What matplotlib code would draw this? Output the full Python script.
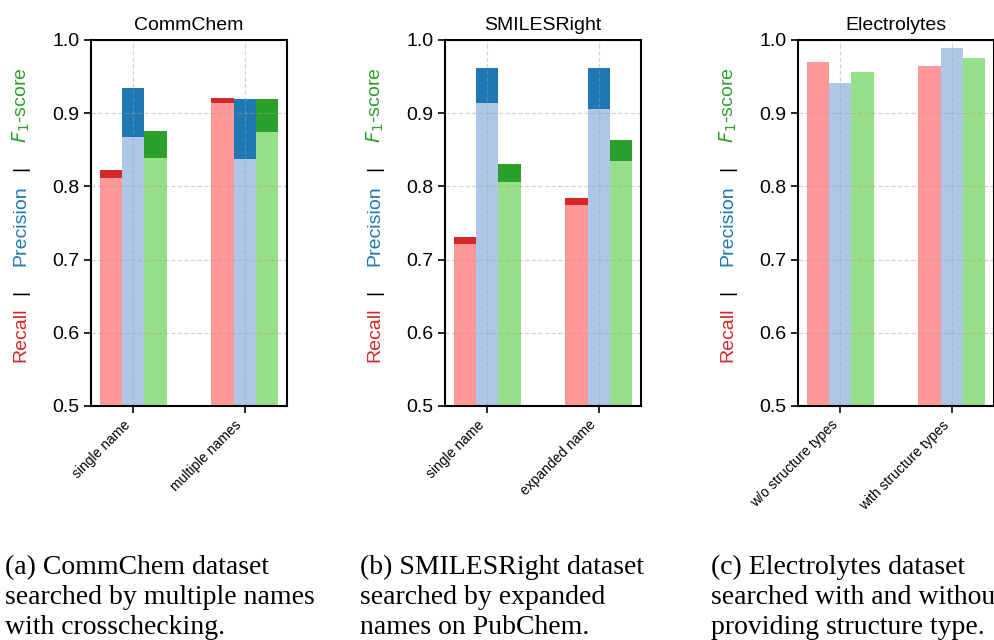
import numpy as np
import matplotlib.pyplot as plt

plt.rcParams['font.family'] = 'Liberation Sans'

titles = ['CommChem', 'SMILESRight', 'Electrolytes']
group_labels = [['single name', 'multiple names'],
                ['single name', 'expanded name'],
                ['w/o structure types', 'with structure types']]

# rows: recall, precision, f1 ; columns: the two groups
commchem_base = [[0.812, 0.914], [0.868, 0.838], [0.839, 0.874]]
commchem_top = [[0.823, 0.921], [0.935, 0.919], [0.875, 0.920]]
smiles_base = [[0.721, 0.775], [0.914, 0.906], [0.806, 0.835]]
smiles_top = [[0.731, 0.784], [0.962, 0.962], [0.831, 0.864]]
electro_base = [[0.970, 0.964], [0.941, 0.989], [0.956, 0.976]]
electro_top = [[0.970, 0.964], [0.941, 0.989], [0.956, 0.976]]

captions = ['(a) CommChem dataset\nsearched by multiple names\nwith crosschecking.',
            '(b) SMILESRight dataset\nsearched by expanded\nnames on PubChem.',
            '(c) Electrolytes dataset\nsearched with and without\nproviding structure type.']

light = ['#ff9896', '#aec7e8', '#98df8a']
dark = ['#d62728', '#1f77b4', '#2ca02c']

fig = plt.figure(figsize=(9.94, 6.4), dpi=100)
W, H = 994.0, 640.0
lefts = [91, 445, 798]
axw = 196
bottom, top = 406, 40

bases = [commchem_base, smiles_base, electro_base]
tops = [commchem_top, smiles_top, electro_top]
cap_x = [5, 360, 711]

for k in range(3):
    ax = fig.add_axes([lefts[k] / W, 1 - bottom / H, axw / W, (bottom - top) / H])
    x = np.arange(2)
    for i in range(3):
        b = np.array(bases[k][i])
        t = np.array(tops[k][i])
        ax.bar(x + (i - 1) * 0.2, b, 0.2, color=light[i], zorder=1)
        ax.bar(x + (i - 1) * 0.2, t - b, 0.2, bottom=b, color=dark[i], zorder=1)
    ax.set_ylim(0.5, 1.0)
    ax.set_yticks([0.5, 0.6, 0.7, 0.8, 0.9, 1.0])
    ax.set_xticks(x)
    ax.set_xticklabels(group_labels[k], rotation=45, ha='right', fontsize=10)
    ax.tick_params(axis='y', labelsize=14, width=1.2, length=5)
    ax.tick_params(axis='x', width=1.2, length=5)
    ax.grid(True, linestyle='--', color='#a0a0a0', alpha=0.45, linewidth=0.9, zorder=3)
    ax.set_axisbelow(False)
    for s in ax.spines.values():
        s.set_linewidth(1.5)
        s.set_zorder(4)
    ax.set_title(titles[k], fontsize=14, pad=7)

    # coloured y label
    parts = [('Recall', '#d62728', 0.194), ('|', 'black', 0.311),
             ('Precision', '#1f77b4', 0.492), ('|', 'black', 0.65),
             ('$F_1$-score', '#2ca02c', 0.822)]
    for txt, c, yy in parts:
        ax.text(-70 / axw, yy, txt, color=c, rotation=90, fontsize=14,
                ha='center', va='center', transform=ax.transAxes)

    fig.text(cap_x[k] / W, 1 - 555 / H, captions[k], fontsize=20,
             family='Liberation Serif', va='top', ha='left', linespacing=1.27)

fig.savefig('out.png', dpi=100)
